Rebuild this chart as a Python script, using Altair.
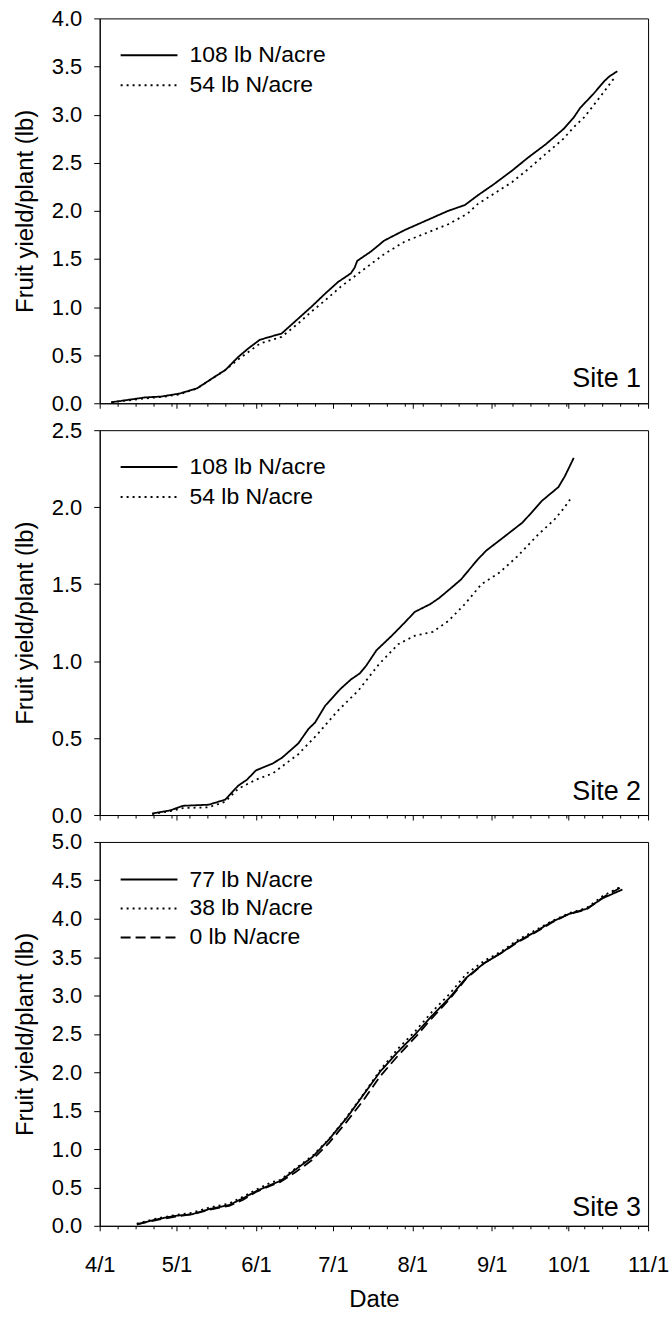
import altair as alt
import pandas as pd

# ---------------- data (days after April 1, cumulative fruit yield lb/plant) -------------
s1_108_days = [4.5, 11, 17.5, 24, 31, 38, 44, 49, 54, 58, 62.5, 71, 77.5, 82.5, 88, 93, 98,
               99.5, 100.5, 106, 111, 119, 127.5, 136, 142.5, 147.5, 154, 161, 167.5, 174,
               181, 185, 187.5, 192.5, 197, 199, 202]
s1_108_vals = [0.01, 0.035, 0.06, 0.07, 0.10, 0.155, 0.26, 0.345, 0.48, 0.57, 0.66, 0.725,
               0.88, 1.0, 1.14, 1.26, 1.35, 1.41, 1.48, 1.58, 1.69, 1.80, 1.90, 2.0, 2.06,
               2.16, 2.28, 2.42, 2.56, 2.69, 2.85, 2.97, 3.07, 3.21, 3.35, 3.40, 3.45]

s1_54_days = [4.5, 11, 17.5, 24, 31, 38, 49, 54, 62.5, 71, 77.5, 82.5, 88, 94, 99, 106, 111,
              119, 127.5, 136, 143.5, 147.5, 154, 161, 167.5, 174, 181, 185, 189, 194, 198,
              200.5]
s1_54_vals = [0.01, 0.03, 0.05, 0.065, 0.09, 0.155, 0.345, 0.455, 0.62, 0.69, 0.83, 0.95,
              1.07, 1.21, 1.31, 1.45, 1.55, 1.68, 1.77, 1.86, 1.97, 2.07, 2.18, 2.30, 2.44,
              2.59, 2.75, 2.87, 2.97, 3.14, 3.28, 3.37]

s2_108_days = [20.5, 27.5, 32.5, 42.5, 49, 54, 57.5, 61, 67.5, 71, 77.5, 81.5, 84, 88, 94,
               98, 101.5, 104, 108, 114, 119, 123, 129, 132.5, 137.5, 141, 144, 147.5, 151,
               156.5, 165, 168, 172.5, 179, 181.5, 185]
s2_108_vals = [0.01, 0.03, 0.06, 0.067, 0.10, 0.19, 0.23, 0.29, 0.335, 0.37, 0.465, 0.56,
               0.60, 0.71, 0.82, 0.88, 0.92, 0.97, 1.07, 1.165, 1.25, 1.32, 1.37, 1.41, 1.48,
               1.53, 1.59, 1.66, 1.72, 1.79, 1.90, 1.955, 2.04, 2.13, 2.20, 2.32]

s2_54_days = [20.5, 27.5, 32.5, 42.5, 49, 54, 61, 67.5, 77.5, 85, 92.5, 101, 109, 116.5, 123,
              130, 136, 142.5, 149, 156, 163, 171, 177.5, 181, 184]
s2_54_vals = [0.006, 0.025, 0.045, 0.05, 0.087, 0.17, 0.23, 0.27, 0.395, 0.525, 0.67, 0.81,
              0.98, 1.11, 1.165, 1.19, 1.26, 1.37, 1.50, 1.575, 1.68, 1.82, 1.92, 1.99, 2.06]

s3_days = [14.5, 23, 29.5, 36, 43, 50.5, 56, 61, 66.5, 70.5, 76.5, 83, 89.5, 96.5, 103, 109.5,
           116.5, 123, 129.5, 136.5, 143, 150, 156.5, 163, 170, 176.5, 183, 190, 196.5]
s3_77_end = 204
s3_38_end = 203
s3_0_end = 203
s3_77_vals = [0.02, 0.09, 0.13, 0.15, 0.22, 0.27, 0.36, 0.45, 0.53, 0.585, 0.735, 0.895,
              1.125, 1.41, 1.71, 2.01, 2.27, 2.49, 2.73, 2.97, 3.23, 3.42, 3.55, 3.70, 3.83,
              3.96, 4.06, 4.13, 4.27, 4.38]
s3_38_vals = [0.03, 0.10, 0.14, 0.17, 0.24, 0.29, 0.38, 0.47, 0.56, 0.60, 0.75, 0.91, 1.13,
              1.42, 1.72, 2.03, 2.31, 2.53, 2.78, 3.02, 3.28, 3.45, 3.57, 3.72, 3.85, 3.97,
              4.07, 4.14, 4.30, 4.41]
s3_0_vals = [0.02, 0.08, 0.12, 0.15, 0.21, 0.26, 0.34, 0.44, 0.52, 0.57, 0.70, 0.86, 1.08,
             1.36, 1.64, 1.95, 2.22, 2.45, 2.70, 2.95, 3.22, 3.42, 3.55, 3.69, 3.82, 3.95,
             4.06, 4.12, 4.28, 4.40]

site_labels = ["Site 1", "Site 2", "Site 3"]
s12_series = ["108 lb N/acre", "54 lb N/acre"]
s3_series = ["77 lb N/acre", "38 lb N/acre", "0 lb N/acre"]
y_max = [4.0, 2.5, 5.0]

# ---------------- helpers -------------
START = pd.Timestamp("2001-04-01")
FONT = "Liberation Sans"


def frame(pairs):
    rows = []
    for name, days, vals in pairs:
        for d, v in zip(days, vals):
            rows.append({"date": START + pd.to_timedelta(d, unit="D"), "value": v, "series": name})
    return pd.DataFrame(rows)


df1 = frame([(s12_series[0], s1_108_days, s1_108_vals), (s12_series[1], s1_54_days, s1_54_vals)])
df2 = frame([(s12_series[0], s2_108_days, s2_108_vals), (s12_series[1], s2_54_days, s2_54_vals)])
df3 = frame([(s3_series[0], s3_days + [s3_77_end], s3_77_vals),
             (s3_series[1], s3_days + [s3_38_end], s3_38_vals),
             (s3_series[2], s3_days + [s3_0_end], s3_0_vals)])

x_domain = [alt.DateTime(year=2001, month=4, date=1), alt.DateTime(year=2001, month=11, date=1)]
major_vals = [alt.DateTime(year=2001, month=m, date=1) for m in range(4, 12)]
minor_vals = [alt.DateTime(year=2001, month=d.month, date=d.day)
              for d in pd.date_range("2001-04-08", "2001-10-31", freq="7D")]
x_scale = alt.Scale(domain=x_domain, nice=False)

W = 550


def panel(df, series, dashes, ymax, site, show_labels, clip_h, legend_y, title_offset, height):
    major_axis = alt.Axis(
        values=major_vals, format="%-m/%-d", labels=show_labels, tickSize=5,
        labelFontSize=22, labelPadding=24, labelFlush=False,
        title="Date" if show_labels else None,
        titleFontSize=24, titlePadding=12, orient="bottom", grid=False,
    )
    minor_axis = alt.Axis(values=minor_vals, labels=False, tickSize=3, domain=False,
                          title=None, orient="bottom", grid=False)
    steps = [round(i * 0.5, 1) for i in range(int(ymax / 0.5) + 1)]
    lines = alt.Chart(df).mark_line(color="black", strokeWidth=1.8).encode(
        x=alt.X("date:T", scale=x_scale, axis=major_axis),
        y=alt.Y("value:Q", scale=alt.Scale(domain=[0, ymax], nice=False),
                axis=alt.Axis(values=steps, format=".1f", tickSize=6, labelPadding=12,
                              labelFontSize=22, title="Fruit yield/plant (lb)",
                              titleFontSize=24, titlePadding=14, grid=False)),
        strokeDash=alt.StrokeDash(
            "series:N", sort=series,
            scale=alt.Scale(domain=series, range=dashes),
            legend=alt.Legend(title=None, orient="none", legendX=20, legendY=legend_y,
                              symbolType="stroke", symbolSize=3249, symbolStrokeWidth=2,
                              symbolStrokeColor="black", clipHeight=clip_h, rowPadding=0,
                              padding=0, labelFontSize=23, labelFont=FONT,
                              labelColor="black", labelOffset=11, labelLimit=0),
        ),
    )
    minor = alt.Chart(df).mark_point(opacity=0).encode(
        x=alt.X("date:T", scale=x_scale, axis=minor_axis),
    )
    return alt.layer(lines, minor).resolve_axis(x="independent").properties(
        width=W, height=height,
        title=alt.TitleParams(text=site, orient="bottom", anchor="end", frame="group",
                              baseline="alphabetic", offset=title_offset, dx=-7,
                              fontSize=27, font=FONT, fontWeight="normal", color="black"),
    )


p1 = panel(df1, s12_series, [[1, 0], [2, 4]], y_max[0], site_labels[0], False, 30, 22, -27.5, 386)
p2 = panel(df2, s12_series, [[1, 0], [2, 4]], y_max[1], site_labels[1], False, 30, 22, -26.5, 386)
p3 = panel(df3, s3_series, [[1, 0], [2, 4], [10, 5]], y_max[2], site_labels[2], True, 28.5, 23.5, -95.5, 385)

chart = alt.vconcat(p1, p2, p3, spacing=27, bounds="flush").resolve_scale(
    strokeDash="independent"
).properties(
    padding={"left": 12, "top": 4.5, "right": 0, "bottom": 0}
).configure_view(
    stroke="black", strokeWidth=1
).configure_axis(
    domainColor="black", tickColor="black", labelColor="black", titleColor="black",
    labelFont=FONT, titleFont=FONT, titleFontWeight="normal", domainWidth=1, tickWidth=1,
).configure_legend(
    labelFont=FONT
)

chart.save("out.html", embed_options={"renderer": "svg", "actions": False})
